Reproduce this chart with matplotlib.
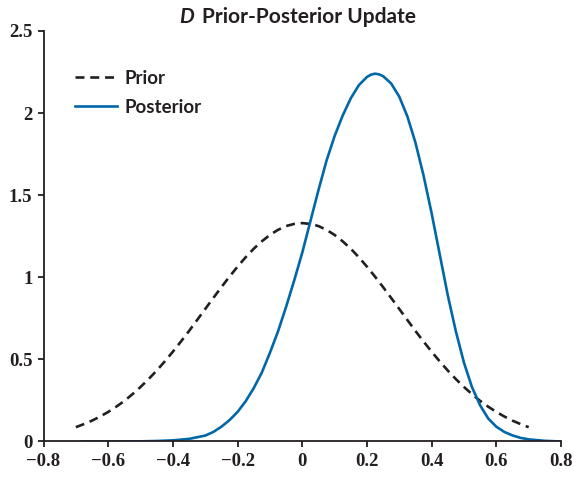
import numpy as np
import matplotlib
matplotlib.use('Agg')
from matplotlib import pyplot as plt

# values
prior_x = [-0.70, -0.675, -0.65, -0.625, -0.60, -0.575, -0.55, -0.525, -0.50, -0.475,
           -0.45, -0.425, -0.40, -0.375, -0.35, -0.325, -0.30, -0.275, -0.25, -0.225,
           -0.20, -0.175, -0.15, -0.125, -0.10, -0.075, -0.05, -0.025, 0.00, 0.025,
           0.05, 0.075, 0.10, 0.125, 0.15, 0.175, 0.20, 0.225, 0.25, 0.275,
           0.30, 0.325, 0.35, 0.375, 0.40, 0.425, 0.45, 0.475, 0.50, 0.525,
           0.55, 0.575, 0.60, 0.625, 0.65, 0.675, 0.70]
prior_y = [0.087, 0.106, 0.127, 0.152, 0.180, 0.212, 0.247, 0.288, 0.332, 0.380,
           0.432, 0.488, 0.547, 0.609, 0.673, 0.740, 0.807, 0.874, 0.940, 1.004,
           1.065, 1.122, 1.174, 1.219, 1.258, 1.289, 1.312, 1.325, 1.330, 1.325,
           1.312, 1.289, 1.258, 1.219, 1.174, 1.122, 1.065, 1.004, 0.940, 0.874,
           0.807, 0.740, 0.673, 0.609, 0.547, 0.488, 0.432, 0.380, 0.332, 0.288,
           0.247, 0.212, 0.180, 0.152, 0.127, 0.106, 0.087]

post_x = [-0.68, -0.60, -0.50, -0.45, -0.40, -0.35, -0.30, -0.275, -0.25, -0.225,
          -0.20, -0.175, -0.15, -0.125, -0.10, -0.075, -0.05, -0.025, 0.00, 0.025,
          0.05, 0.075, 0.10, 0.125, 0.15, 0.175, 0.20, 0.2125, 0.225, 0.2375,
          0.25, 0.275, 0.30, 0.325, 0.35, 0.375, 0.40, 0.425, 0.45, 0.475,
          0.50, 0.525, 0.55, 0.575, 0.60, 0.625, 0.65, 0.675, 0.70, 0.75, 0.80]
post_y = [0.0, 0.0, 0.001, 0.003, 0.007, 0.016, 0.036, 0.058, 0.09, 0.13,
          0.18, 0.245, 0.325, 0.42, 0.54, 0.67, 0.82, 0.98, 1.15, 1.34,
          1.53, 1.71, 1.86, 1.985, 2.09, 2.17, 2.22, 2.234, 2.24, 2.236,
          2.225, 2.18, 2.10, 1.98, 1.82, 1.62, 1.39, 1.14, 0.89, 0.67,
          0.48, 0.33, 0.22, 0.14, 0.09, 0.058, 0.037, 0.022, 0.013, 0.004, 0.0]

x_ticks = [-0.8, -0.6, -0.4, -0.2, 0, 0.2, 0.4, 0.6, 0.8]
x_labels = ['\u22120.8', '\u22120.6', '\u22120.4', '\u22120.2', '0', '0.2', '0.4', '0.6', '0.8']
y_ticks = [0, 0.5, 1, 1.5, 2, 2.5]
y_labels = ['0', '0.5', '1', '1.5', '2', '2.5']

blue = '#0068a8'
dark = '#231f20'

fig = plt.figure(figsize=(5.74, 4.79), dpi=100)
ax = fig.add_axes([43.5 / 574, 0.0783, (561 - 43.5) / 574, 0.857])

ax.plot(prior_x, prior_y, color=dark, lw=1.9, linestyle=(0, (3.4, 2.2)), label='Prior')
ax.plot(post_x, post_y, color=blue, lw=1.9, label='Posterior')

ax.set_xlim(-0.8, 0.8)
ax.set_ylim(0, 2.5)
ax.set_xticks(x_ticks)
ax.set_xticklabels(x_labels, fontfamily='Liberation Serif', fontweight='bold', fontsize=13.5, color=dark)
ax.set_yticks(y_ticks)
ax.set_yticklabels(y_labels, fontfamily='Liberation Serif', fontweight='bold', fontsize=13.5, color=dark)

for s in ['top', 'right']:
    ax.spines[s].set_visible(False)
for s in ['left', 'bottom']:
    ax.spines[s].set_linewidth(1.3)
    ax.spines[s].set_color(dark)
ax.tick_params(direction='out', length=4, width=1.3, color=dark, pad=4)

leg = ax.legend(loc='upper left', bbox_to_anchor=(0.061, 0.905), frameon=False,
                borderaxespad=0, borderpad=0, handlelength=2.25, handletextpad=0.4,
                labelspacing=0.62, prop={'family': 'Lato', 'weight': 'bold', 'size': 13.5})
for t in leg.get_texts():
    t.set_color(dark)

fig.text(194 / 574, 1 - 17 / 479, 'D', ha='right', va='center', fontsize=15,
         fontfamily='Lato', fontweight='bold', fontstyle='italic', color=dark)
fig.text(202 / 574, 1 - 17 / 479, 'Prior-Posterior Update', ha='left', va='center',
         fontsize=15, fontfamily='Lato', fontweight='bold', color=dark)

fig.savefig('out.png', dpi=100)
